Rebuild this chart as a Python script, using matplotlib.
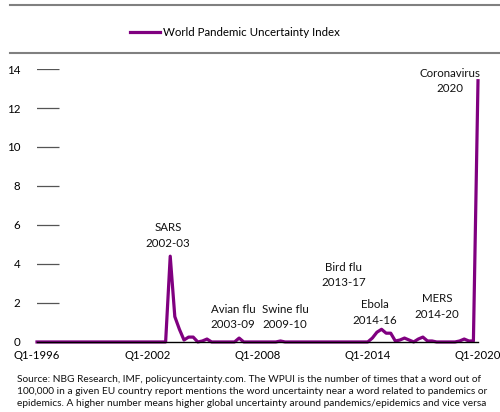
import matplotlib.pyplot as plt
from matplotlib.lines import Line2D

# quarterly index values, Q1-1996 .. Q1-2020 (97 quarters)
wpui = [
    0, 0, 0, 0, 0, 0, 0, 0, 0, 0, 0, 0,            # 1996-1998
    0, 0, 0, 0, 0, 0, 0, 0, 0, 0, 0, 0,            # 1999-2001
    0, 0, 0, 0, 0, 4.4, 1.3, 0.65,                 # 2002-2003
    0.1, 0.25, 0.25, 0.0, 0.05, 0.15, 0.0, 0,      # 2004-2005
    0, 0, 0, 0, 0.2, 0, 0, 0,                      # 2006-2007
    0, 0, 0, 0, 0, 0.05, 0, 0,                     # 2008-2009
    0, 0, 0, 0, 0, 0, 0, 0,                        # 2010-2011
    0, 0, 0, 0, 0, 0, 0, 0,                        # 2012-2013
    0, 0.2, 0.5, 0.65, 0.45, 0.45, 0.05, 0.1,      # 2014-2015
    0.2, 0.1, 0.0, 0.15, 0.25, 0.05, 0.05, 0,      # 2016-2017
    0, 0, 0, 0, 0.05, 0.15, 0.05, 0.05,            # 2018-2019
    13.4,                                          # Q1-2020
]
xtick_labels = ["Q1-1996", "Q1-2002", "Q1-2008", "Q1-2014", "Q1-2020"]
yticks = [0, 2, 4, 6, 8, 10, 12, 14]
events = ["SARS\n2002-03", "Avian flu\n2003-09", "Swine flu\n2009-10",
          "Bird flu\n2013-17", "Ebola\n2014-16", "MERS\n2014-20",
          "Coronavirus\n2020"]

source = ("Source: NBG Research, IMF, policyuncertainty.com. The WPUI is the number of times that a word out of\n"
          "100,000 in a given EU country report mentions the word uncertainty near a word related to pandemics or\n"
          "epidemics. A higher number means higher global uncertainty around pandemics/epidemics and vice versa")

plt.rcParams["font.family"] = ["Lato", "DejaVu Sans"]

fig = plt.figure(figsize=(5, 4.12), dpi=100)
ax = fig.add_axes([0.074, 0.170, 0.882, 0.6625])

x = list(range(len(wpui)))
ax.plot(x, wpui, color="#800080", lw=2.3, clip_on=False, solid_joinstyle="round",
        label="World Pandemic Uncertainty Index")

# short grey stubs at each y tick
ax.hlines(yticks[1:], -0.2, 4.8, color="#555555", lw=0.9)

ax.set_xlim(0, len(wpui) - 1)
ax.set_ylim(0, 14)
ax.set_xticks([0, 24, 48, 72, 96])
ax.set_xticklabels(xtick_labels, fontsize=8.2)
ax.set_yticks(yticks)
ax.set_yticklabels([str(v) for v in yticks], fontsize=8.3)
ax.tick_params(length=0)
ax.tick_params(axis="x", pad=6)
ax.tick_params(axis="y", pad=12)
for s in ["top", "right", "left"]:
    ax.spines[s].set_visible(False)
ax.spines["bottom"].set_color("black")
ax.spines["bottom"].set_linewidth(1.0)

# event labels
event_pos = [(28.5, 5.46), (42.7, 1.26), (54.0, 1.26), (66.7, 3.44),
             (73.6, 1.51), (87.1, 1.82), (89.8, 13.4)]
for lab, (ex, ey) in zip(events, event_pos):
    ax.text(ex, ey, lab, ha="center", va="center", fontsize=8.3,
            linespacing=1.45, color="#111111")

# legend above the plot
fig.legend(loc="center", bbox_to_anchor=(0.47, 0.922), frameon=False,
           fontsize=8.3, handlelength=2.6, handletextpad=0.3)

# grey frame lines at the top
fig.add_artist(Line2D([0.02, 1.0], [1 - 5 / 412, 1 - 5 / 412], color="#808080", lw=1.5,
                      transform=fig.transFigure))
fig.add_artist(Line2D([0.02, 1.0], [1 - 53 / 412, 1 - 53 / 412], color="#808080", lw=1.5,
                      transform=fig.transFigure))

fig.text(0.034, 1 - 375 / 412, source, fontsize=7.25, va="top", ha="left",
         linespacing=1.4, color="#111111")

fig.savefig("out.png", dpi=100)
